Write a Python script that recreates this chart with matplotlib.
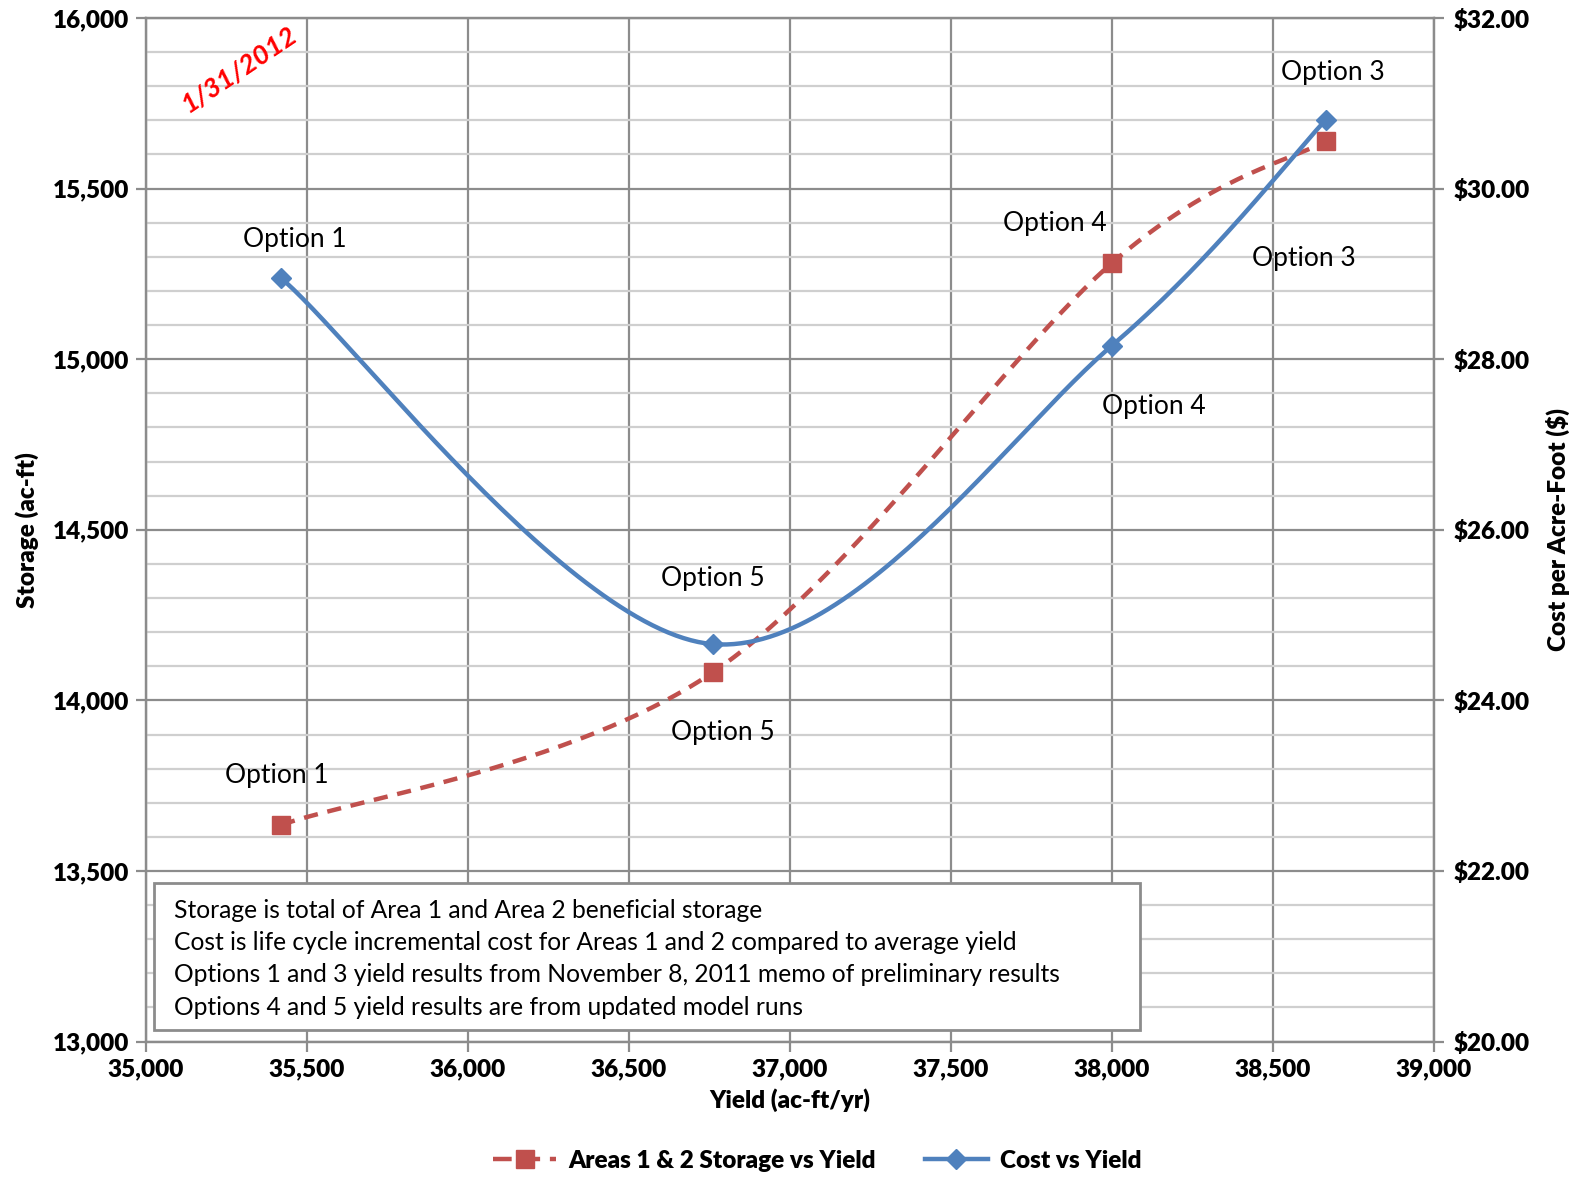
import numpy as np
import matplotlib
matplotlib.use("Agg")
import matplotlib.pyplot as plt
from matplotlib.ticker import MultipleLocator
from matplotlib.lines import Line2D
from matplotlib import font_manager

plt.rcParams['font.family'] = ['Lato', 'DejaVu Sans']
plt.rcParams['axes.labelweight'] = 'bold'

# ---- data ----
options = ["Option 1", "Option 5", "Option 4", "Option 3"]
yield_afy = [35420, 36760, 38000, 38665]
storage_af = [13635, 14082, 15282, 15640]
cost_per_af = [28.95, 24.66, 28.16, 30.81]

notes = [
    "Storage is total of Area 1 and Area 2 beneficial storage",
    "Cost is life cycle incremental cost for Areas 1 and 2 compared to average yield",
    "Options 1 and 3 yield results from November 8, 2011 memo of preliminary results",
    "Options 4 and 5 yield results are from updated model runs",
]

RED = "#C0504D"
BLUE = "#4F81BD"
MAJOR_GRID = "#8C8C8C"
MINOR_GRID = "#CFCFCF"

tick_font = font_manager.FontProperties(family=['Lato', 'DejaVu Sans'], weight='heavy', size=17.5)


def smooth(xs, ys, n=60):
    """Bezier smoothing through all points (Catmull-Rom style control points)."""
    P = np.column_stack([xs, ys]).astype(float)
    ext = np.vstack([P[0], P, P[-1]])
    out = []
    t = np.linspace(0, 1, n)[:, None]
    for i in range(len(P) - 1):
        p0, p1 = ext[i + 1], ext[i + 2]
        c1 = p0 + (ext[i + 2] - ext[i]) / 6.0
        c2 = p1 - (ext[i + 3] - ext[i + 1]) / 6.0
        seg = ((1 - t) ** 3) * p0 + 3 * ((1 - t) ** 2) * t * c1 + 3 * (1 - t) * t ** 2 * c2 + t ** 3 * p1
        out.append(seg if i == 0 else seg[1:])
    s = np.vstack(out)
    return s[:, 0], s[:, 1]


fig = plt.figure(figsize=(15.81, 11.78), dpi=100)
ax = fig.add_axes([0.0923, 0.1158, 0.8147, 0.8689])
ax2 = ax.twinx()

ax.set_xlim(35000, 39000)
ax.set_ylim(13000, 16000)
ax2.set_ylim(20, 32)

# grid
ax.yaxis.set_minor_locator(MultipleLocator(100))
ax.grid(which='minor', axis='y', color=MINOR_GRID, lw=1.6)
ax.grid(which='major', axis='y', color=MAJOR_GRID, lw=1.6)
ax.grid(which='major', axis='x', color=MAJOR_GRID, lw=1.6)
ax.set_axisbelow(True)

for a in (ax, ax2):
    for sp in a.spines.values():
        sp.set_color(MAJOR_GRID)
        sp.set_linewidth(1.6)
ax.tick_params(which='major', length=7, width=1.6, color=MAJOR_GRID, pad=5)
ax.tick_params(which='minor', length=0)
ax2.tick_params(which='major', length=7, width=1.6, color=MAJOR_GRID, pad=7)

# tick positions and labels
x_ticks = np.arange(35000, 39001, 500)
s_ticks = np.arange(13000, 16001, 500)
c_ticks = np.arange(20, 33, 2)
ax.set_xticks(x_ticks, [f"{v:,.0f}" for v in x_ticks], fontproperties=tick_font)
ax.set_yticks(s_ticks, [f"{v:,.0f}" for v in s_ticks], fontproperties=tick_font)
ax2.set_yticks(c_ticks, [f"${v:,.2f}" for v in c_ticks], fontproperties=tick_font)

ax.set_xlabel("Yield (ac-ft/yr)", fontsize=17.5, fontweight='heavy', labelpad=6)
ax.set_ylabel("Storage (ac-ft)", fontsize=17.5, fontweight='heavy', labelpad=10)
ax2.set_ylabel("Cost per Acre-Foot ($)", fontsize=17.5, fontweight='heavy', labelpad=12)

# series
sx, sy = smooth(yield_afy, storage_af)
ax.plot(sx, sy, color=RED, lw=3.2, ls=(0, (3.2, 2.2)), zorder=3)
ax.plot(yield_afy, storage_af, ls='none', marker='s', ms=13, color=RED, zorder=4)

cx, cy = smooth(yield_afy, cost_per_af)
ax2.plot(cx, cy, color=BLUE, lw=3.2, zorder=3)
ax2.plot(yield_afy, cost_per_af, ls='none', marker='D', ms=10, color=BLUE, zorder=4)

# point labels (offsets in pixels from each marker)
red_offsets = [(-4, 49), (10, -60), (-57, 39), (7, 68)]
blue_offsets = [(14, 39), (0, 66), (42, -61), (-22, -139)]
for name, x, y, off in zip(options, yield_afy, storage_af, red_offsets):
    ax.annotate(name, (x, y), xytext=off, textcoords='offset pixels',
                ha='center', va='center', fontsize=19, zorder=5)
for name, x, y, off in zip(options, yield_afy, cost_per_af, blue_offsets):
    ax2.annotate(name, (x, y), xytext=off, textcoords='offset pixels',
                 ha='center', va='center', fontsize=19, zorder=5)

# date stamp
fig.text(0.151, 0.941, "1/31/2012", color='#FF0000', fontsize=19.5, fontweight='bold',
         fontstyle='italic', rotation=34, ha='center', va='center')

# notes box
box_l, box_b, box_w, box_h = 154 / 1581, 1 - 1030 / 1178, (1140 - 154) / 1581, (1030 - 883) / 1178
fig.patches.append(plt.Rectangle((box_l, box_b), box_w, box_h, transform=fig.transFigure,
                                 facecolor='white', edgecolor='#8C8C8C', lw=2, zorder=10))
for i, line in enumerate(notes):
    fig.text(174 / 1581, 1 - (910 + i * 32.5) / 1178, line, fontsize=17.7,
             ha='left', va='center', zorder=11)

# legend
handles = [
    Line2D([], [], color=RED, lw=3.2, ls=(0, (4.2, 2.2)), marker='s', ms=13),
    Line2D([], [], color=BLUE, lw=3.2, marker='D', ms=10),
]
fig.legend(handles, ["Areas 1 & 2 Storage vs Yield", "Cost vs Yield"],
           loc='center', bbox_to_anchor=(0.517, 0.0145), ncol=2, frameon=False,
           prop={'size': 17.5, 'weight': 'heavy'}, handlelength=2.6, columnspacing=2.0,
           handletextpad=0.5)

fig.savefig("out.png", dpi=100)
